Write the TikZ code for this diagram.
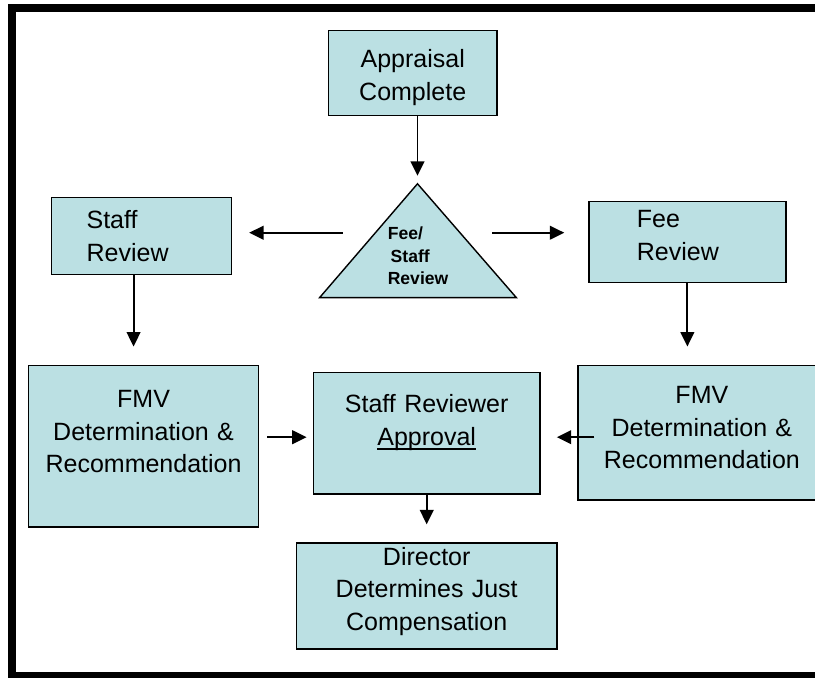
\documentclass[tikz,border=0pt]{standalone}
\usepackage{fontspec}
\setmainfont{Liberation Sans}
\usepackage{tikz}
\usetikzlibrary{arrows.meta}
\definecolor{boxblue}{RGB}{187,224,227}
\newcommand{\undl}[1]{\leavevmode\setbox0\hbox{#1}\rlap{\rule[-0.13cm]{\wd0}{0.05cm}}\box0}
\tikzstyle{process} = [rectangle, draw=black, line width=1pt, fill=boxblue, anchor=north west, inner xsep=0pt, inner ysep=0pt, align=center, font=\fontsize{17.8}{23.4}\selectfont]
\tikzstyle{review} = [process, align=left]
\tikzstyle{decision} = [draw=black, line width=1pt, fill=boxblue]
\tikzstyle{tritext} = [align=left, anchor=base west, inner sep=0pt, font=\bfseries\fontsize{12.5}{16}\selectfont]
\tikzstyle{arrow} = [line width=1.4pt, -{Triangle[length=0.36cm, width=0.34cm]}]

\begin{document}
\begin{tikzpicture}[x=0.025cm, y=-0.025cm]
\useasboundingbox (0,0) rectangle (816,678);
\fill[white] (0,0) rectangle (816,678);
\clip (0,0) rectangle (816,678);
% frame runs off the right edge
\draw[line width=0.2cm] (840,8) -- (12,8) -- (12,677) -- (840,677);

\node (appr) [process, text width=4.225cm, text height=0.925cm, text depth=1.2cm] at (328,30)
	{Appraisal\\Complete};
\coordinate (apex) at (418,184);
\draw [decision] (apex) -- (517,298) -- (320,298) -- cycle;
% last line sits on the given point
\node (tri) [tritext] at (388,285)
	{Fee/\\\,Staff\\Review};
\node (staff) [review, inner xsep=0.875cm, text width=2.75cm, text height=0.775cm, text depth=1.15cm] at (51,197)
	{Staff\\Review};
\node (fee) [review, inner xsep=1.2cm, text width=2.525cm, text height=0.65cm, text depth=1.375cm] at (589,201)
	{Fee\\Review};
\node (fmvl) [process, text width=5.75cm, text height=1.05cm, text depth=3cm] at (28,365)
	{FMV\\Determination \&\\Recommendation};
\node (appv) [process, text width=5.675cm, text height=1cm, text depth=2.05cm] at (313,372)
	{Staff Reviewer\\\undl{Approval}};
\node (fmvr) [process, text width=6.2cm, text height=0.95cm, text depth=2.425cm] at (578,365)
	{FMV\\Determination \&\\Recommendation};
\node (dir) [process, text width=6.525cm, text height=0.55cm, text depth=2.1cm] at (296,543)
	{Director\\Determines Just\\Compensation};

\coordinate (trileft) at (343,233);
\coordinate (triright) at (493,233);
\coordinate (mid) at ([yshift=-0.1cm]appv.west);

\draw [arrow, shorten >=0.2cm] (appr.south -| apex) -- (apex);
\draw [arrow, shorten >=0.425cm] (trileft) -- (trileft -| staff.east);
\draw [arrow, shorten >=0.6cm] (triright) -- (triright -| fee.west);
\draw [arrow, shorten >=0.45cm] ([xshift=-0.2cm]staff.south) -- ([xshift=-0.2cm]staff.south |- fmvl.north);
\draw [arrow, shorten >=0.45cm] (fee.south) -- (fee.south |- fmvr.north);
\draw [arrow, shorten <=0.2cm, shorten >=0.15cm] (fmvl.east |- mid) -- (mid);
\draw [arrow, shorten <=-0.425cm, shorten >=0.4cm] (fmvr.west |- mid) -- (appv.east |- mid);
\draw [arrow, shorten >=0.45cm] (appv.south) -- (appv.south |- dir.north);

\end{tikzpicture}
\end{document}
